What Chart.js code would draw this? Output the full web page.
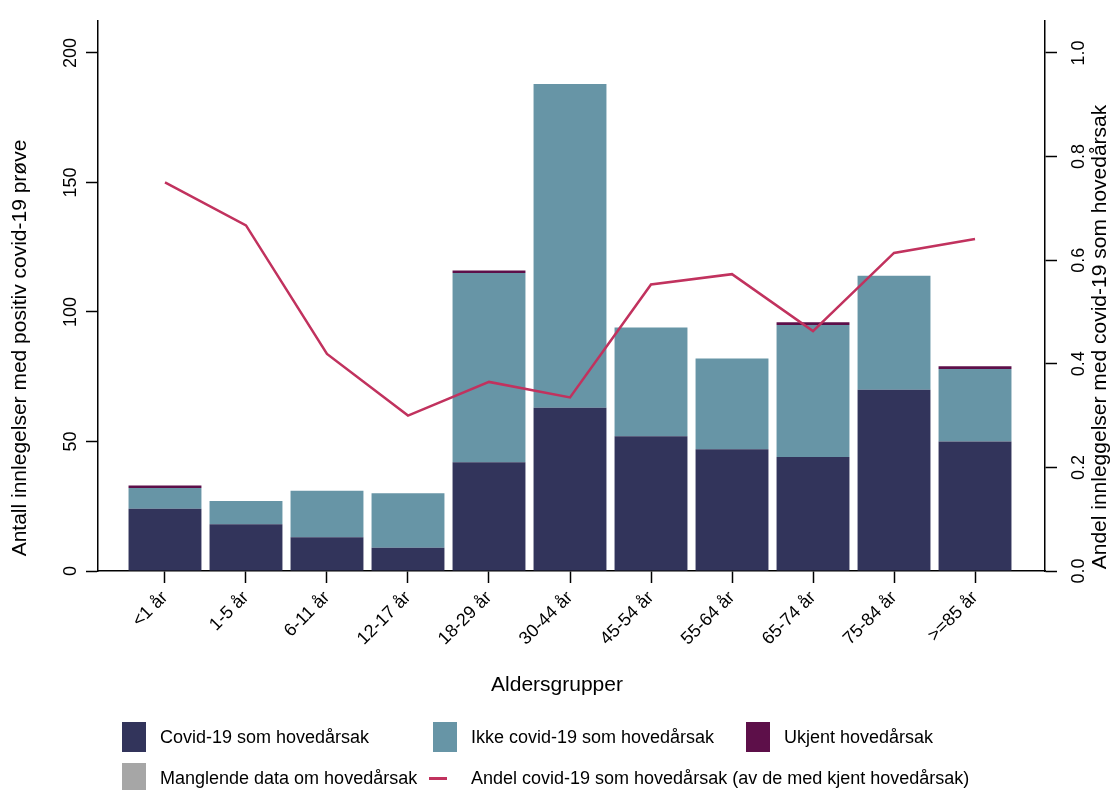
<!DOCTYPE html>
<html lang="no">
<head>
<meta charset="UTF-8">
<title>Innleggelser med positiv covid-19 prøve etter aldersgruppe</title>
<script src="https://cdn.jsdelivr.net/npm/chart.js@4.4.0/dist/chart.umd.min.js"></script>
<style>
	html, body { margin: 0; padding: 0; background: #fff; }
	.wrap { position: relative; width: 1111px; height: 790px; overflow: hidden; font-family: "Liberation Sans", Arial, sans-serif; color: #000; }
	#chart { position: absolute; left: 0; top: 0; }
	.lg_item { position: absolute; font-size: 18px; line-height: 30px; white-space: nowrap; }
	.lg_box { position: absolute; left: 0; top: 0; width: 24px; height: 30px; }
	.lg_line { position: absolute; left: 0; top: 14px; width: 18px; height: 3px; }
	.lg_txt { position: absolute; left: 38px; top: 0; }
	.lg_line + .lg_txt { left: 42px; }
</style>
</head>
<body>
<div class="wrap">
	<canvas id="chart" width="1111" height="790"></canvas>
	<div id="legend"></div>
</div>

<script>
	// kategorier
	var ageGroups = ['<1 år', '1-5 år', '6-11 år', '12-17 år', '18-29 år', '30-44 år', '45-54 år', '55-64 år', '65-74 år', '75-84 år', '>=85 år'];

	// antall innleggelser (venstre akse)
	var covidMain = [24, 18, 13, 9, 42, 63, 52, 47, 44, 70, 50];
	var notCovidMain = [8, 9, 18, 21, 73, 125, 42, 35, 51, 44, 28];
	var unknownMain = [1, 0, 0, 0, 1, 0, 0, 0, 1, 0, 1];
	var missingData = [0, 0, 0, 0, 0, 0, 0, 0, 0, 0, 0];

	// andel covid-19 som hovedårsak (høyre akse)
	var shareCovid = [0.75, 0.667, 0.419, 0.30, 0.365, 0.335, 0.553, 0.573, 0.463, 0.614, 0.641];

	// akseverdier
	var leftTicks = [0, 50, 100, 150, 200];
	var rightTicks = [0, 0.2, 0.4, 0.6, 0.8, 1.0];

	var FONT = '"Liberation Sans", Arial, sans-serif';

	function toPoints(arr) {
		return arr.map(function (v, i) { return { x: i, y: v }; });
	}

	var series = [
		{ label: 'Covid-19 som hovedårsak', data: covidMain, color: '#32345b' },
		{ label: 'Ikke covid-19 som hovedårsak', data: notCovidMain, color: '#6795a6' },
		{ label: 'Ukjent hovedårsak', data: unknownMain, color: '#5d0f49' },
		{ label: 'Manglende data om hovedårsak', data: missingData, color: '#a6a6a6' }
	];
	var lineLabel = 'Andel covid-19 som hovedårsak (av de med kjent hovedårsak)';
	var lineColor = '#c1325e';

	var datasets = series.map(function (s) {
		return {
			type: 'bar',
			label: s.label,
			data: toPoints(s.data),
			backgroundColor: s.color,
			borderWidth: 0,
			barPercentage: 0.9,
			categoryPercentage: 1.0,
			yAxisID: 'y'
		};
	});
	datasets.push({
		type: 'line',
		label: lineLabel,
		data: toPoints(shareCovid),
		borderColor: lineColor,
		borderWidth: 2.5,
		pointRadius: 0,
		tension: 0,
		fill: false,
		yAxisID: 'y2',
		order: -1
	});

	// aksetitler tegnes selv (begge leses nedenfra og opp)
	var axisTitles = {
		id: 'axisTitles',
		afterDraw: function (chart) {
			var ctx = chart.ctx;
			ctx.save();
			ctx.fillStyle = '#000';
			ctx.font = '21px ' + FONT;
			ctx.textAlign = 'center';
			ctx.textBaseline = 'middle';
			ctx.fillText('Aldersgrupper', 557, 685);

			ctx.save();
			ctx.translate(20, 348);
			ctx.rotate(-Math.PI / 2);
			ctx.fillText('Antall innlegelser med positiv covid-19 prøve', 0, 0);
			ctx.restore();

			ctx.save();
			ctx.translate(1100, 337);
			ctx.rotate(-Math.PI / 2);
			ctx.fillText('Andel innleggelser med covid-19 som hovedårsak', 0, 0);
			ctx.restore();
			ctx.restore();
		}
	};

	var axisLine = { color: '#000', width: 1.5 };

	var chart = new Chart(document.getElementById('chart'), {
		data: { datasets: datasets },
		plugins: [axisTitles],
		options: {
			responsive: false,
			animation: false,
			devicePixelRatio: 1,
			layout: { padding: { top: 16, left: 0, right: 0, bottom: 0 } },
			plugins: {
				legend: { display: false },
				tooltip: { enabled: false }
			},
			scales: {
				x: {
					type: 'linear',
					offset: false,
					min: -0.827,
					max: 10.864,
					stacked: true,
					afterBuildTicks: function (scale) {
						scale.ticks = ageGroups.map(function (l, i) { return { value: i }; });
					},
					afterFit: function (scale) { scale.height = 219; },
					ticks: {
						autoSkip: false,
						minRotation: 45,
						maxRotation: 45,
						padding: 4,
						color: '#000',
						font: { family: FONT, size: 18 },
						callback: function (v) { return ageGroups[v]; }
					},
					grid: { offset: false, drawOnChartArea: false, tickLength: 12, tickColor: '#000', tickWidth: 1.5 },
					border: axisLine
				},
				y: {
					position: 'left',
					stacked: true,
					min: 0,
					max: 212.4,
					afterBuildTicks: function (scale) {
						scale.ticks = leftTicks.map(function (v) { return { value: v }; });
					},
					afterFit: function (scale) { scale.width = 98; },
					ticks: {
						minRotation: 90,
						maxRotation: 90,
						crossAlign: 'center',
						padding: 0,
						color: '#000',
						font: { family: FONT, size: 18 }
					},
					grid: { drawOnChartArea: false, tickLength: 12, tickColor: '#000', tickWidth: 1.5 },
					border: axisLine
				},
				y2: {
					position: 'right',
					min: 0,
					max: 1.062,
					afterBuildTicks: function (scale) {
						scale.ticks = rightTicks.map(function (v) { return { value: v }; });
					},
					afterFit: function (scale) { scale.width = 66; },
					ticks: {
						minRotation: 90,
						maxRotation: 90,
						crossAlign: 'center',
						padding: 10,
						color: '#000',
						font: { family: FONT, size: 18 },
						callback: function (v) { return v.toFixed(1); }
					},
					grid: { drawOnChartArea: false, tickLength: 12, tickColor: '#000', tickWidth: 1.5 },
					border: axisLine
				}
			}
		}
	});

	// legende i HTML
	var legendPos = [
		{ left: 122, top: 722 },
		{ left: 433, top: 722 },
		{ left: 746, top: 722 },
		{ left: 122, top: 763 },
		{ left: 429, top: 763 }
	];
	var legendHtml = '';
	series.forEach(function (s, i) {
		legendHtml += '<div class="lg_item" style="left:' + legendPos[i].left + 'px;top:' + legendPos[i].top + 'px">' +
			'<span class="lg_box" style="background:' + s.color + '"></span>' +
			'<span class="lg_txt">' + s.label + '</span></div>';
	});
	legendHtml += '<div class="lg_item" style="left:' + legendPos[4].left + 'px;top:' + legendPos[4].top + 'px">' +
		'<span class="lg_line" style="background:' + lineColor + '"></span>' +
		'<span class="lg_txt">' + lineLabel + '</span></div>';
	document.getElementById('legend').innerHTML = legendHtml;
</script>
</body>
</html>
